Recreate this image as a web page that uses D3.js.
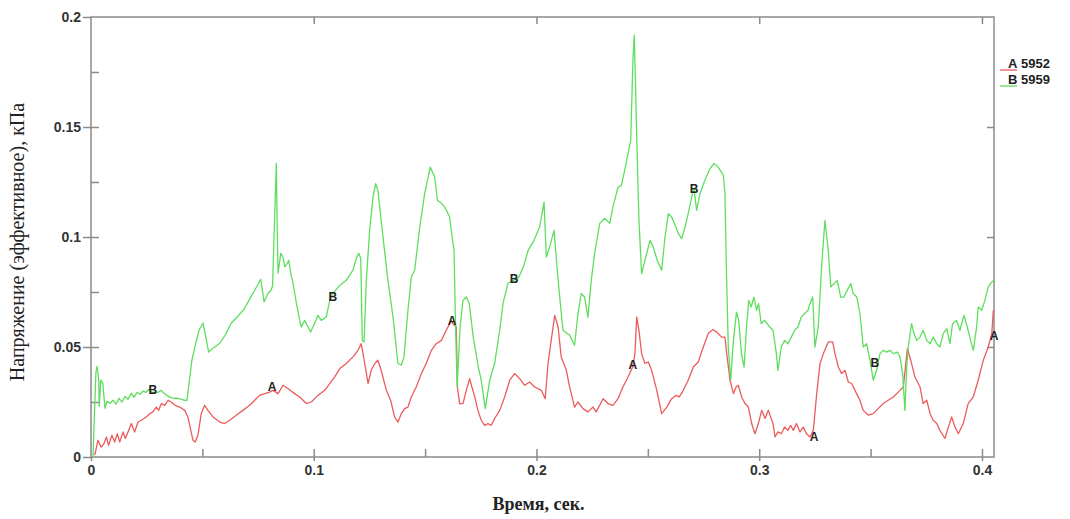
<!DOCTYPE html>
<meta charset="utf-8">
<style>
  body { margin: 0; background: #fff; }
  svg text { font-family: "Liberation Sans", Arial, sans-serif; }
</style>
<svg width="1070" height="519"></svg>
<script src="https://d3js.org/d3.v7.min.js"></script>
<script>
  // series A (5952) - [time, value]
  var seriesA = [
    [0.0017,0.0008],[0.0031,0.0076],[0.0046,0.0045],[0.0058,0.0061],[0.0069,0.0091],[0.0079,0.0053],[0.0094,0.0099],[0.0106,0.0068],
    [0.0118,0.0106],[0.0129,0.0068],[0.0144,0.0114],[0.0154,0.0084],[0.0169,0.0121],[0.0181,0.0152],[0.0196,0.0114],[0.0211,0.0159],
    [0.0226,0.0167],[0.0248,0.0182],[0.0264,0.0197],[0.0278,0.0205],[0.0293,0.0227],[0.0304,0.0212],[0.0316,0.0243],[0.0331,0.0235],
    [0.0346,0.0258],[0.0360,0.0250],[0.0378,0.0235],[0.0398,0.0227],[0.0421,0.0212],[0.0435,0.0182],[0.0448,0.0121],[0.0458,0.0076],
    [0.0468,0.0068],[0.0480,0.0099],[0.0495,0.0197],[0.0510,0.0235],[0.0525,0.0212],[0.0548,0.0182],[0.0578,0.0159],[0.0600,0.0152],
    [0.0623,0.0167],[0.0652,0.0190],[0.0682,0.0212],[0.0712,0.0235],[0.0735,0.0258],[0.0757,0.0280],[0.0780,0.0288],[0.0802,0.0295],
    [0.0817,0.0303],[0.0840,0.0288],[0.0862,0.0326],[0.0884,0.0311],[0.0914,0.0288],[0.0937,0.0273],[0.0967,0.0243],[0.0989,0.0250],
    [0.1019,0.0280],[0.1049,0.0303],[0.1072,0.0334],[0.1094,0.0364],[0.1117,0.0402],[0.1146,0.0425],[0.1176,0.0455],[0.1199,0.0485],
    [0.1213,0.0515],[0.1229,0.0425],[0.1244,0.0334],[0.1258,0.0394],[0.1274,0.0425],[0.1288,0.0440],[0.1303,0.0394],[0.1326,0.0303],
    [0.1345,0.0258],[0.1363,0.0182],[0.1378,0.0159],[0.1393,0.0197],[0.1408,0.0220],[0.1423,0.0227],[0.1438,0.0273],[0.1460,0.0318],
    [0.1483,0.0379],[0.1505,0.0425],[0.1528,0.0485],[0.1550,0.0515],[0.1573,0.0530],[0.1595,0.0576],[0.1618,0.0621],[0.1625,0.0606],
    [0.1640,0.0591],[0.1645,0.0318],[0.1655,0.0243],[0.1670,0.0243],[0.1685,0.0303],[0.1700,0.0356],[0.1710,0.0318],[0.1723,0.0273],
    [0.1737,0.0212],[0.1752,0.0167],[0.1767,0.0144],[0.1782,0.0152],[0.1797,0.0144],[0.1812,0.0175],[0.1835,0.0212],[0.1857,0.0273],
    [0.1880,0.0349],[0.1902,0.0379],[0.1925,0.0356],[0.1947,0.0326],[0.1969,0.0341],[0.1992,0.0318],[0.2022,0.0303],[0.2039,0.0265],
    [0.2052,0.0425],[0.2066,0.0530],[0.2082,0.0644],[0.2097,0.0591],[0.2111,0.0455],[0.2134,0.0394],[0.2149,0.0318],[0.2171,0.0227],
    [0.2186,0.0250],[0.2209,0.0220],[0.2231,0.0205],[0.2254,0.0227],[0.2268,0.0205],[0.2299,0.0265],[0.2321,0.0243],[0.2343,0.0235],
    [0.2366,0.0265],[0.2388,0.0318],[0.2411,0.0364],[0.2432,0.0409],[0.2442,0.0470],[0.2450,0.0636],[0.2460,0.0576],[0.2472,0.0470],
    [0.2487,0.0425],[0.2502,0.0432],[0.2517,0.0394],[0.2540,0.0303],[0.2562,0.0197],[0.2585,0.0227],[0.2607,0.0265],[0.2626,0.0280],
    [0.2641,0.0273],[0.2659,0.0303],[0.2681,0.0349],[0.2704,0.0409],[0.2726,0.0432],[0.2749,0.0500],[0.2771,0.0561],[0.2791,0.0579],
    [0.2809,0.0568],[0.2831,0.0545],[0.2846,0.0545],[0.2854,0.0470],[0.2869,0.0349],[0.2884,0.0288],[0.2896,0.0318],[0.2906,0.0326],
    [0.2921,0.0273],[0.2936,0.0243],[0.2951,0.0227],[0.2966,0.0152],[0.2981,0.0106],[0.2996,0.0152],[0.3011,0.0212],[0.3026,0.0175],
    [0.3041,0.0212],[0.3051,0.0182],[0.3062,0.0152],[0.3071,0.0091],[0.3084,0.0114],[0.3099,0.0106],[0.3114,0.0136],[0.3129,0.0121],
    [0.3141,0.0144],[0.3153,0.0121],[0.3167,0.0152],[0.3183,0.0114],[0.3198,0.0136],[0.3212,0.0106],[0.3228,0.0091],[0.3243,0.0121],
    [0.3258,0.0288],[0.3273,0.0425],[0.3288,0.0470],[0.3310,0.0523],[0.3330,0.0523],[0.3340,0.0470],[0.3355,0.0409],[0.3370,0.0379],
    [0.3385,0.0394],[0.3400,0.0341],[0.3415,0.0334],[0.3437,0.0288],[0.3452,0.0258],[0.3467,0.0212],[0.3490,0.0190],[0.3512,0.0197],
    [0.3534,0.0220],[0.3557,0.0243],[0.3579,0.0258],[0.3602,0.0273],[0.3624,0.0295],[0.3647,0.0318],[0.3665,0.0493],[0.3680,0.0440],
    [0.3699,0.0364],[0.3722,0.0318],[0.3736,0.0243],[0.3752,0.0258],[0.3767,0.0197],[0.3781,0.0167],[0.3797,0.0152],[0.3811,0.0121],
    [0.3834,0.0084],[0.3849,0.0136],[0.3864,0.0182],[0.3879,0.0136],[0.3894,0.0106],[0.3916,0.0152],[0.3938,0.0243],[0.3961,0.0273],
    [0.3983,0.0349],[0.4006,0.0440],[0.4028,0.0500],[0.4044,0.0561],[0.4051,0.0667]
  ];

  // series B (5959)
  var seriesB = [
    [0.0009,0.0000],[0.0022,0.0385],[0.0027,0.0412],[0.0035,0.0349],[0.0037,0.0230],[0.0044,0.0349],[0.0053,0.0335],[0.0063,0.0221],
    [0.0072,0.0253],[0.0085,0.0244],[0.0099,0.0258],[0.0112,0.0240],[0.0126,0.0267],[0.0139,0.0249],[0.0153,0.0276],[0.0166,0.0262],
    [0.0180,0.0290],[0.0193,0.0271],[0.0207,0.0294],[0.0220,0.0285],[0.0233,0.0299],[0.0247,0.0294],[0.0260,0.0308],[0.0274,0.0294],
    [0.0287,0.0294],[0.0301,0.0294],[0.0314,0.0303],[0.0328,0.0290],[0.0341,0.0280],[0.0355,0.0271],[0.0373,0.0267],[0.0391,0.0267],
    [0.0418,0.0258],[0.0431,0.0258],[0.0443,0.0358],[0.0453,0.0440],[0.0467,0.0503],[0.0485,0.0576],[0.0503,0.0609],[0.0516,0.0544],
    [0.0528,0.0477],[0.0548,0.0494],[0.0578,0.0517],[0.0602,0.0553],[0.0629,0.0608],[0.0660,0.0640],[0.0690,0.0676],[0.0714,0.0721],
    [0.0735,0.0758],[0.0750,0.0785],[0.0762,0.0808],[0.0777,0.0705],[0.0795,0.0744],[0.0808,0.0758],[0.0815,0.0776],[0.0824,0.1076],
    [0.0832,0.1335],[0.0836,0.1030],[0.0840,0.0835],[0.0852,0.0926],[0.0862,0.0909],[0.0870,0.0864],[0.0881,0.0880],[0.0888,0.0894],
    [0.0897,0.0835],[0.0907,0.0790],[0.0922,0.0699],[0.0937,0.0621],[0.0944,0.0591],[0.0959,0.0621],[0.0986,0.0568],[0.1004,0.0608],
    [0.1019,0.0644],[0.1034,0.0621],[0.1056,0.0636],[0.1072,0.0712],[0.1086,0.0744],[0.1117,0.0780],[0.1146,0.0803],[0.1176,0.0849],
    [0.1191,0.0903],[0.1202,0.0926],[0.1211,0.0903],[0.1218,0.0530],[0.1226,0.0523],[0.1236,0.0803],[0.1251,0.1030],[0.1266,0.1182],
    [0.1278,0.1243],[0.1288,0.1212],[0.1311,0.1000],[0.1333,0.0803],[0.1356,0.0636],[0.1378,0.0425],[0.1393,0.0417],[0.1405,0.0455],
    [0.1423,0.0667],[0.1438,0.0818],[0.1453,0.0849],[0.1476,0.1045],[0.1498,0.1197],[0.1523,0.1318],[0.1543,0.1273],[0.1555,0.1167],
    [0.1573,0.1153],[0.1588,0.1136],[0.1610,0.1091],[0.1621,0.1000],[0.1630,0.0940],[0.1636,0.0621],[0.1644,0.0318],[0.1657,0.0591],
    [0.1670,0.0712],[0.1685,0.0727],[0.1698,0.0699],[0.1716,0.0545],[0.1739,0.0409],[0.1752,0.0349],[0.1770,0.0220],[0.1790,0.0349],
    [0.1812,0.0426],[0.1835,0.0576],[0.1850,0.0699],[0.1872,0.0790],[0.1896,0.0803],[0.1918,0.0812],[0.1941,0.0864],[0.1963,0.0940],
    [0.1989,0.0985],[0.2014,0.1045],[0.2034,0.1159],[0.2044,0.0909],[0.2059,0.0955],[0.2079,0.1030],[0.2097,0.0803],[0.2119,0.0576],
    [0.2149,0.0553],[0.2171,0.0508],[0.2186,0.0652],[0.2201,0.0743],[0.2216,0.0727],[0.2231,0.0636],[0.2246,0.0803],[0.2261,0.0926],
    [0.2284,0.1062],[0.2306,0.1085],[0.2329,0.1062],[0.2343,0.1136],[0.2366,0.1227],[0.2381,0.1235],[0.2396,0.1303],[0.2411,0.1379],
    [0.2423,0.1440],[0.2433,0.1803],[0.2439,0.1917],[0.2444,0.1712],[0.2450,0.1455],[0.2460,0.1076],[0.2472,0.0834],[0.2487,0.0894],
    [0.2510,0.0985],[0.2524,0.0955],[0.2542,0.0894],[0.2562,0.0849],[0.2577,0.1000],[0.2592,0.1106],[0.2607,0.1091],[0.2626,0.1045],
    [0.2637,0.1015],[0.2652,0.0993],[0.2667,0.1045],[0.2681,0.1106],[0.2697,0.1182],[0.2707,0.1221],[0.2719,0.1121],[0.2734,0.1197],
    [0.2756,0.1258],[0.2779,0.1311],[0.2797,0.1334],[0.2816,0.1318],[0.2839,0.1280],[0.2846,0.1197],[0.2853,0.0835],[0.2861,0.0500],
    [0.2872,0.0349],[0.2884,0.0530],[0.2898,0.0658],[0.2908,0.0621],[0.2920,0.0470],[0.2932,0.0409],[0.2943,0.0591],[0.2953,0.0712],
    [0.2964,0.0682],[0.2976,0.0727],[0.2988,0.0667],[0.2997,0.0697],[0.3009,0.0606],[0.3024,0.0621],[0.3047,0.0591],[0.3062,0.0576],
    [0.3077,0.0470],[0.3084,0.0394],[0.3099,0.0500],[0.3114,0.0530],[0.3129,0.0515],[0.3144,0.0545],[0.3159,0.0576],[0.3174,0.0591],
    [0.3189,0.0636],[0.3204,0.0652],[0.3219,0.0667],[0.3228,0.0697],[0.3240,0.0727],[0.3250,0.0500],[0.3265,0.0591],[0.3280,0.0864],
    [0.3295,0.1076],[0.3310,0.0940],[0.3321,0.0773],[0.3336,0.0788],[0.3350,0.0803],[0.3366,0.0727],[0.3380,0.0727],[0.3395,0.0758],
    [0.3411,0.0788],[0.3422,0.0743],[0.3438,0.0727],[0.3452,0.0652],[0.3467,0.0500],[0.3482,0.0515],[0.3497,0.0440],[0.3512,0.0349],
    [0.3527,0.0394],[0.3542,0.0470],[0.3557,0.0485],[0.3572,0.0477],[0.3587,0.0485],[0.3602,0.0470],[0.3620,0.0477],[0.3632,0.0455],
    [0.3644,0.0379],[0.3654,0.0212],[0.3662,0.0409],[0.3669,0.0500],[0.3684,0.0606],[0.3695,0.0561],[0.3707,0.0530],[0.3722,0.0545],
    [0.3736,0.0576],[0.3752,0.0530],[0.3767,0.0515],[0.3781,0.0545],[0.3797,0.0515],[0.3811,0.0500],[0.3826,0.0561],[0.3842,0.0584],
    [0.3856,0.0515],[0.3868,0.0606],[0.3886,0.0621],[0.3901,0.0576],[0.3919,0.0644],[0.3934,0.0591],[0.3949,0.0530],[0.3961,0.0485],
    [0.3976,0.0591],[0.3983,0.0682],[0.3999,0.0667],[0.4013,0.0712],[0.4028,0.0773],[0.4044,0.0795],[0.4054,0.0803]
  ];

  var seriesNames = ["A", "B"];
  var seriesLabels = ["5952", "5959"];
  var seriesColors = ["#ec5b5b", "#5ede5e"];
  // letter markers along each curve: [time, value]
  var marksA = [[0.0813,0.0317],[0.1621,0.0621],[0.2433,0.0421],[0.3246,0.0094],[0.4054,0.0553]];
  var marksB = [[0.0278,0.0307],[0.1086,0.0729],[0.1899,0.0812],[0.2707,0.1217],[0.3519,0.0426]];
  var xTicks = [0, 0.1, 0.2, 0.3, 0.4];
  var xMinor = [0.05, 0.1, 0.15, 0.2, 0.25, 0.3, 0.35, 0.4];
  var yTicks = [0, 0.05, 0.1, 0.15, 0.2];
  var yMinor = [0.025, 0.05, 0.075, 0.1, 0.125, 0.15, 0.175];

  var svg = d3.select("svg"),
    marginLeft = 91, marginTop = 17,
    width = 903, height = 440,
    axisColor = "#8a8a8a";

  var x = d3.scaleLinear().domain([0, 0.4054]).range([0, width]);
  var y = d3.scaleLinear().domain([0, 0.2]).range([height, 0]);

  var g = svg.append("g").attr("transform", "translate(" + marginLeft + "," + marginTop + ")");

  function styleAxis(sel) {
    sel.select(".domain").remove();
    sel.selectAll("line").attr("stroke", axisColor).attr("stroke-width", 1.5);
    sel.selectAll("text").attr("fill", "#333").attr("font-size", 14).attr("font-weight", "bold");
  }

  // frame
  g.append("rect")
    .attr("width", width).attr("height", height)
    .attr("fill", "none").attr("stroke", axisColor).attr("stroke-width", 1.5);

  // bottom: labels + short outer ticks, then inner ticks
  g.append("g").attr("transform", "translate(0," + height + ")")
    .call(d3.axisBottom(x).tickValues(xTicks).tickSize(4).tickPadding(4).tickFormat(function(d) { return String(d); }))
    .call(styleAxis);
  g.append("g").attr("transform", "translate(0," + height + ")")
    .call(d3.axisTop(x).tickValues(xMinor).tickSize(8).tickFormat(""))
    .call(styleAxis);
  // top ticks
  g.append("g")
    .call(d3.axisBottom(x).tickValues(xTicks.slice(1)).tickSize(7).tickFormat(""))
    .call(styleAxis);

  // left
  g.append("g")
    .call(d3.axisLeft(y).tickValues(yTicks).tickSize(8).tickPadding(2).tickFormat(function(d) { return String(d); }))
    .call(styleAxis);
  g.append("g")
    .call(d3.axisRight(y).tickValues(yMinor).tickSize(8).tickFormat(""))
    .call(styleAxis);
  // right ticks
  g.append("g").attr("transform", "translate(" + width + ",0)")
    .call(d3.axisLeft(y).tickValues(yTicks.slice(1, 4)).tickSize(7).tickFormat(""))
    .call(styleAxis);

  // lines
  var line = d3.line()
    .x(function(d) { return x(d[0]); })
    .y(function(d) { return y(d[1]); });

  var allSeries = [seriesA, seriesB];
  var marks = [marksA, marksB];

  allSeries.forEach(function(s, i) {
    g.append("path")
      .datum(s)
      .attr("fill", "none")
      .attr("stroke", seriesColors[i])
      .attr("stroke-width", 1.3)
      .attr("stroke-linejoin", "round")
      .attr("d", line);
  });

  // letter markers on the curves
  marks.forEach(function(m, i) {
    g.append("g").selectAll("text")
      .data(m)
      .enter().append("text")
      .attr("x", function(d) { return x(d[0]); })
      .attr("y", function(d) { return y(d[1]); })
      .attr("dy", "0.35em")
      .attr("text-anchor", "middle")
      .attr("font-size", 12)
      .attr("font-weight", "bold")
      .attr("fill", "#222")
      .text(seriesNames[i]);
  });

  // legend
  var legend = svg.append("g").attr("transform", "translate(1000,68)");
  seriesNames.forEach(function(n, i) {
    var row = legend.append("g").attr("transform", "translate(0," + (i * 16) + ")");
    row.append("line")
      .attr("x1", 0).attr("x2", 17).attr("y1", 2).attr("y2", 2)
      .attr("stroke", seriesColors[i]).attr("stroke-width", 1.3);
    row.append("text").attr("x", 8).attr("y", 0)
      .attr("font-size", 13).attr("font-weight", "bold").attr("fill", "#222")
      .text(n);
    row.append("text").attr("x", 21).attr("y", 0)
      .attr("font-size", 13).attr("font-weight", "bold").attr("fill", "#222")
      .text(seriesLabels[i]);
  });

  // axis titles
  svg.append("text")
    .attr("x", marginLeft + width / 2 - 4).attr("y", 510)
    .attr("text-anchor", "middle")
    .style("font-family", "'Liberation Serif', 'Times New Roman', serif")
    .attr("font-size", 18).attr("font-weight", "bold").attr("fill", "#222")
    .text("Время, сек.");

  svg.append("text")
    .attr("transform", "translate(24," + (marginTop + height / 2 + 5) + ") rotate(-90)")
    .attr("text-anchor", "middle")
    .style("font-family", "'Liberation Serif', 'Times New Roman', serif")
    .attr("font-size", 20).attr("fill", "#222")
    .text("Напряжение (эффективное), кПа");
</script>
